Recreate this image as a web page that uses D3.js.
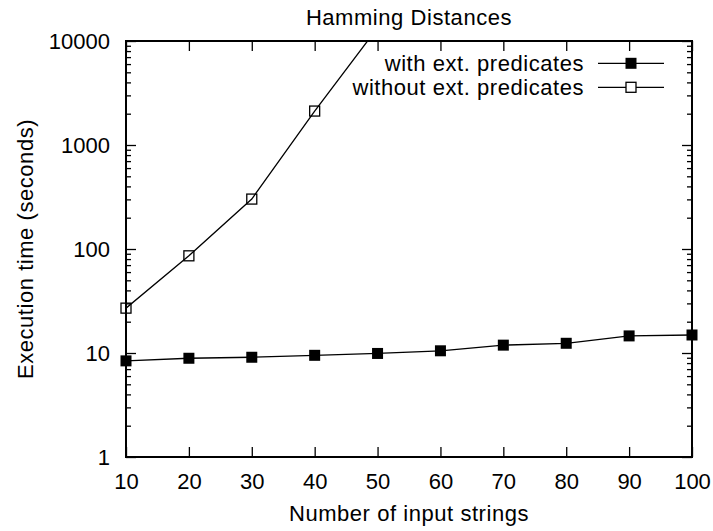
<!DOCTYPE html>
<html>
<head>
<meta charset="utf-8">
<script src="https://cdn.jsdelivr.net/npm/d3@7"></script>
<style>
  body { margin: 0; background: #fff; }
  text { font-family: "Liberation Sans", Arial, sans-serif; fill: #000; }
  .words { letter-spacing: 0.55px; }
</style>
</head>
<body>
<div id="chart"></div>
<script>
// data
var strings = [10, 20, 30, 40, 50, 60, 70, 80, 90, 100];
var withExt = [8.4, 8.9, 9.1, 9.5, 9.9, 10.5, 11.9, 12.4, 14.6, 14.9];
var withoutStrings = [10, 20, 30, 40, 50];
var withoutExt = [27, 86, 302, 2120, 13400];
var xTicks = [10, 20, 30, 40, 50, 60, 70, 80, 90, 100];
var yTicks = [1, 10, 100, 1000, 10000];

var W = 713, H = 531;
var margin = {left: 126, right: 21, top: 41, bottom: 74};
var width = W - margin.left - margin.right,
    height = H - margin.top - margin.bottom;
var fs = 22;

var svg = d3.select("#chart").append("svg")
  .attr("width", W).attr("height", H);

var g = svg.append("g")
  .attr("transform", "translate(" + margin.left + "," + margin.top + ")");

var x = d3.scaleLinear().domain([10, 100]).range([0, width]);
var y = d3.scaleLog().domain([1, 10000]).range([height, 0]);

// minor ticks for log axis
var yMinor = [];
for (var d = 1; d < 10000; d *= 10) {
  for (var k = 2; k <= 9; k++) yMinor.push(d * k);
}

function styleAxis(sel) {
  sel.select(".domain").remove();
  sel.selectAll("line").attr("stroke", "#000").attr("stroke-width", 1.3);
  sel.selectAll("text").attr("font-size", fs + "px");
}

// bottom
g.append("g").attr("transform", "translate(0," + height + ")")
  .call(d3.axisBottom(x).tickValues(xTicks).tickSize(-10).tickPadding(16.4).tickFormat(d3.format("d")))
  .call(styleAxis);
// top mirror
g.append("g")
  .call(d3.axisTop(x).tickValues(xTicks).tickSize(-10).tickFormat(""))
  .call(styleAxis);
// left
g.append("g")
  .call(d3.axisLeft(y).tickValues(yTicks).tickSize(-10).tickPadding(16).tickFormat(d3.format("d")))
  .call(styleAxis)
  .selectAll("text").attr("dy", "0.36em");
g.append("g")
  .call(d3.axisLeft(y).tickValues(yMinor).tickSize(-5).tickFormat(""))
  .call(styleAxis);
// right mirror
g.append("g").attr("transform", "translate(" + width + ",0)")
  .call(d3.axisRight(y).tickValues(yTicks).tickSize(-10).tickFormat(""))
  .call(styleAxis);
g.append("g").attr("transform", "translate(" + width + ",0)")
  .call(d3.axisRight(y).tickValues(yMinor).tickSize(-5).tickFormat(""))
  .call(styleAxis);

// border
g.append("rect")
  .attr("width", width).attr("height", height)
  .attr("fill", "none").attr("stroke", "#000").attr("stroke-width", 2);

g.append("clipPath").attr("id", "clip")
  .append("rect").attr("width", width).attr("height", height);

var line = d3.line()
  .x(function(d) { return x(d[0]); })
  .y(function(d) { return y(d[1]); });

var s1 = strings.map(function(v, i) { return [v, withExt[i]]; });
var s2 = withoutStrings.map(function(v, i) { return [v, withoutExt[i]]; });

var plot = g.append("g").attr("clip-path", "url(#clip)");
plot.append("path").datum(s2).attr("d", line)
  .attr("fill", "none").attr("stroke", "#000").attr("stroke-width", 1.3);
plot.append("path").datum(s1).attr("d", line)
  .attr("fill", "none").attr("stroke", "#000").attr("stroke-width", 1.3);

var ms = 10;
g.selectAll(".open").data(s2.filter(function(d) { return d[1] <= 10000; }))
  .enter().append("rect").attr("class", "open")
  .attr("x", function(d) { return x(d[0]) - ms / 2; })
  .attr("y", function(d) { return y(d[1]) - ms / 2; })
  .attr("width", ms).attr("height", ms)
  .attr("fill", "none").attr("stroke", "#000").attr("stroke-width", 1.3);

g.selectAll(".filled").data(s1)
  .enter().append("rect").attr("class", "filled")
  .attr("x", function(d) { return x(d[0]) - (ms + 1) / 2; })
  .attr("y", function(d) { return y(d[1]) - (ms + 1) / 2; })
  .attr("width", ms + 1).attr("height", ms + 1)
  .attr("fill", "#000");

// legend
var legend = [
  {label: "with ext. predicates", filled: true, y: 63.3},
  {label: "without ext. predicates", filled: false, y: 87.3}
];
legend.forEach(function(l) {
  svg.append("text").attr("class", "words").attr("x", 584).attr("y", l.y).attr("dy", "0.36em")
    .attr("text-anchor", "end").attr("font-size", fs + "px").text(l.label);
  svg.append("line").attr("x1", 598).attr("x2", 664).attr("y1", l.y).attr("y2", l.y)
    .attr("stroke", "#000").attr("stroke-width", 1.3);
  if (l.filled) {
    svg.append("rect").attr("x", 631 - 5.5).attr("y", l.y - 5.5)
      .attr("width", 11).attr("height", 11).attr("fill", "#000");
  } else {
    svg.append("rect").attr("x", 631 - 5).attr("y", l.y - 5)
      .attr("width", 10).attr("height", 10).attr("fill", "#fff")
      .attr("stroke", "#000").attr("stroke-width", 1.3);
  }
});

// title and axis labels
svg.append("text").attr("class", "words").attr("x", margin.left + width / 2).attr("y", 25)
  .attr("text-anchor", "middle").attr("font-size", fs + "px").text("Hamming Distances");
svg.append("text").attr("class", "words").attr("x", margin.left + width / 2).attr("y", 521)
  .attr("text-anchor", "middle").attr("font-size", fs + "px").text("Number of input strings");
svg.append("text").attr("class", "words")
  .attr("transform", "translate(33," + (margin.top + height / 2) + ") rotate(-90)")
  .attr("text-anchor", "middle").attr("font-size", fs + "px").text("Execution time (seconds)");
</script>
</body>
</html>
